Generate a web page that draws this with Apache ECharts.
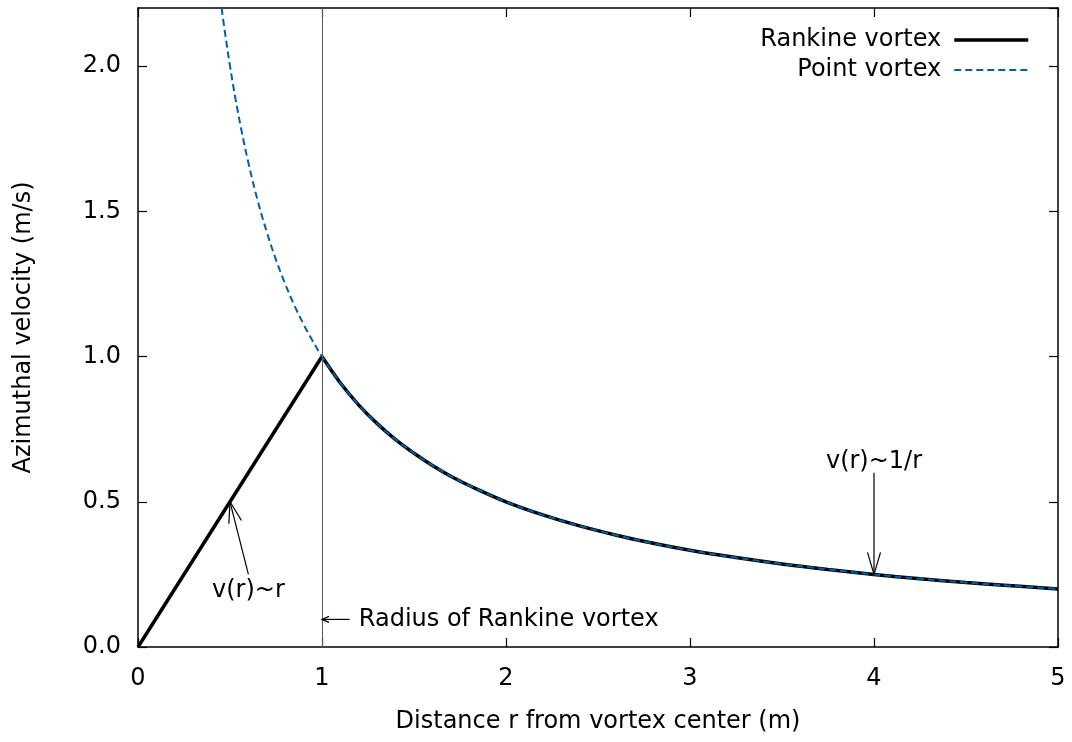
<!DOCTYPE html>
<html>
<head>
<meta charset="utf-8">
<script src="https://cdn.jsdelivr.net/npm/echarts@6/dist/echarts.min.js"></script>
<style>html,body{margin:0;padding:0;background:#fff}#c{width:1072px;height:742px}</style>
</head>
<body>
<div id="c"></div>
<script>
// ---- data ----
const xTicks = [0, 1, 2, 3, 4, 5];
const yTicks = [0.0, 0.5, 1.0, 1.5, 2.0];
// Rankine vortex: solid-body core (v ~ r) up to r = 1, then v ~ 1/r
const rCore = [0, 1];
const vCore = [0, 1];
const rOuter = [1.0, 1.1, 1.2, 1.3, 1.4, 1.5, 1.6, 1.7, 1.8, 2.0, 2.2, 2.4, 2.6, 2.8, 3.0, 3.25, 3.5, 3.75, 4.0, 4.25, 4.5, 4.75, 5.0];
const vOuter = [1.0, 0.909, 0.833, 0.769, 0.714, 0.667, 0.625, 0.588, 0.556, 0.5, 0.455, 0.417, 0.385, 0.357, 0.333, 0.308, 0.286, 0.267, 0.25, 0.235, 0.222, 0.211, 0.2];
// Point vortex (v ~ 1/r)
const rPoint = [0.4545, 0.47, 0.5, 0.53, 0.56, 0.6, 0.65, 0.7, 0.75, 0.8, 0.85, 0.9, 0.95, 1.0, 1.1, 1.2, 1.3, 1.4, 1.5, 1.6, 1.7, 1.8, 2.0, 2.2, 2.4, 2.6, 2.8, 3.0, 3.25, 3.5, 3.75, 4.0, 4.25, 4.5, 4.75, 5.0];
const vPoint = [2.2, 2.128, 2.0, 1.887, 1.786, 1.667, 1.538, 1.429, 1.333, 1.25, 1.176, 1.111, 1.053, 1.0, 0.909, 0.833, 0.769, 0.714, 0.667, 0.625, 0.588, 0.556, 0.5, 0.455, 0.417, 0.385, 0.357, 0.333, 0.308, 0.286, 0.267, 0.25, 0.235, 0.222, 0.211, 0.2];
// Annotations (data coordinates)
const arrowTail = [[0.6, 0.25], [4.0, 0.6], [1.15, 0.095]];
const arrowHead = [[0.5, 0.5], [4.0, 0.25], [1.0, 0.095]];
const noteText = ['v(r)~r', 'v(r)~1/r', 'Radius of Rankine vortex'];
const notePos = [[0.6, 0.195], [4.0, 0.637], [1.2, 0.095]];
const radiusLineX = 1;
const seriesNames = ['Rankine vortex', 'Point vortex'];

// ---- chart ----
const FONT = 'DejaVu Sans';
const FS = 24;
const zip = (a, b) => a.map((v, i) => [v, b[i]]);
const headSize = [[21, 6.5], [22, 6.5], [7, 3]];
const textAlign = ['center', 'center', 'left'];

const chart = echarts.init(document.getElementById('c'), null, {renderer: 'canvas'});
const axisCommon = {
  axisLine: {show: true, onZero: false, lineStyle: {color: '#000', width: 1.5}},
  axisTick: {show: true, inside: true, length: 9, lineStyle: {color: '#000', width: 1.2}},
  splitLine: {show: false},
  axisLabel: {color: '#000', fontSize: FS, fontFamily: FONT}
};
const option = {
  animation: false,
  backgroundColor: '#fff',
  textStyle: {fontFamily: FONT},
  grid: {left: 138, right: 14, top: 8, bottom: 95, containLabel: false},
  legend: {
    data: [
      {name: seriesNames[0], itemStyle: {opacity: 0}, lineStyle: {width: 3.5, color: '#000'}},
      {name: seriesNames[1], itemStyle: {opacity: 0}, lineStyle: {width: 2, color: '#0060ad', type: [7, 4]}}
    ],
    orient: 'vertical', align: 'right', right: 37, top: 23,
    itemWidth: 74, itemHeight: 14, itemGap: 6,
    textStyle: {fontSize: FS, color: '#000', fontFamily: FONT, padding: [0, 8, 0, 0]},
    selectedMode: false
  },
  xAxis: [
    Object.assign({}, axisCommon, {
      type: 'value', min: xTicks[0], max: xTicks[xTicks.length - 1], interval: 1,
      name: 'Distance r from vortex center (m)', nameLocation: 'middle', nameGap: 63,
      nameTextStyle: {fontSize: FS, color: '#000', fontFamily: FONT},
      axisLabel: Object.assign({}, axisCommon.axisLabel, {margin: 20, formatter: v => String(v)})
    }),
    Object.assign({}, axisCommon, {
      type: 'value', position: 'top', min: 0, max: 5, interval: 1,
      axisLabel: {show: false}
    })
  ],
  yAxis: [
    Object.assign({}, axisCommon, {
      type: 'value', min: 0, max: 2.2, interval: 0.5,
      name: 'Azimuthal velocity (m/s)', nameLocation: 'middle', nameGap: 102,
      nameTextStyle: {fontSize: FS, color: '#000', fontFamily: FONT},
      axisLabel: Object.assign({}, axisCommon.axisLabel, {margin: 17, showMaxLabel: false,
        formatter: v => (yTicks.some(t => Math.abs(t - v) < 1e-9) ? v.toFixed(1) : '')})
    }),
    Object.assign({}, axisCommon, {
      type: 'value', position: 'right', min: 0, max: 2.2, interval: 0.5,
      axisLabel: {show: false}
    })
  ],
  series: [
    {
      name: seriesNames[0], type: 'line', data: zip(rCore, vCore), symbol: 'none',
      lineStyle: {color: '#000', width: 3.5}, itemStyle: {color: '#000'}, z: 3,
      markLine: {
        silent: true, symbol: ['none', 'none'], label: {show: false},
        lineStyle: {color: '#555', width: 1, type: 'solid'},
        data: [{xAxis: radiusLineX}]
      }
    },
    {
      name: seriesNames[0], type: 'line', data: zip(rOuter, vOuter), symbol: 'none',
      smooth: 0.4,
      lineStyle: {color: '#000', width: 3.5}, itemStyle: {color: '#000'}, z: 3
    },
    {
      name: seriesNames[1], type: 'line', data: zip(rPoint, vPoint), symbol: 'none',
      smooth: 0.4, clip: true,
      lineStyle: {color: '#0060ad', width: 2, type: [7, 4]}, itemStyle: {color: '#0060ad'}, z: 4
    },
    {
      type: 'custom', silent: true, clip: false, z: 5,
      data: arrowTail.map((t, i) => [t[0], t[1], arrowHead[i][0], arrowHead[i][1]]),
      encode: {x: [0, 2], y: [1, 3]},
      renderItem: function (params, api) {
        const i = params.dataIndex;
        const p1 = api.coord([api.value(0), api.value(1)]);
        const p2 = api.coord([api.value(2), api.value(3)]);
        const dx = p2[0] - p1[0], dy = p2[1] - p1[1];
        const L = Math.sqrt(dx * dx + dy * dy);
        const ux = dx / L, uy = dy / L;
        const hl = headSize[i][0], hw = headSize[i][1];
        const bx = p2[0] - ux * hl, by = p2[1] - uy * hl;
        const a = [bx - uy * hw, by + ux * hw];
        const b = [bx + uy * hw, by - ux * hw];
        const st = {stroke: '#000', lineWidth: 1.2, fill: null};
        return {
          type: 'group',
          children: [
            {type: 'line', shape: {x1: p1[0], y1: p1[1], x2: p2[0], y2: p2[1]}, style: st},
            {type: 'polyline', shape: {points: [a, p2, b]}, style: st}
          ]
        };
      }
    },
    {
      type: 'custom', silent: true, clip: false, z: 5,
      data: notePos.map((p, i) => [p[0], p[1], i]),
      renderItem: function (params, api) {
        const i = params.dataIndex;
        const p = api.coord([api.value(0), api.value(1)]);
        return {
          type: 'text', x: p[0], y: p[1],
          style: {text: noteText[i], fill: '#000', fontSize: FS, fontFamily: FONT,
            align: textAlign[i], verticalAlign: 'middle'}
        };
      }
    }
  ]
};
chart.setOption(option);
</script>
</body>
</html>
